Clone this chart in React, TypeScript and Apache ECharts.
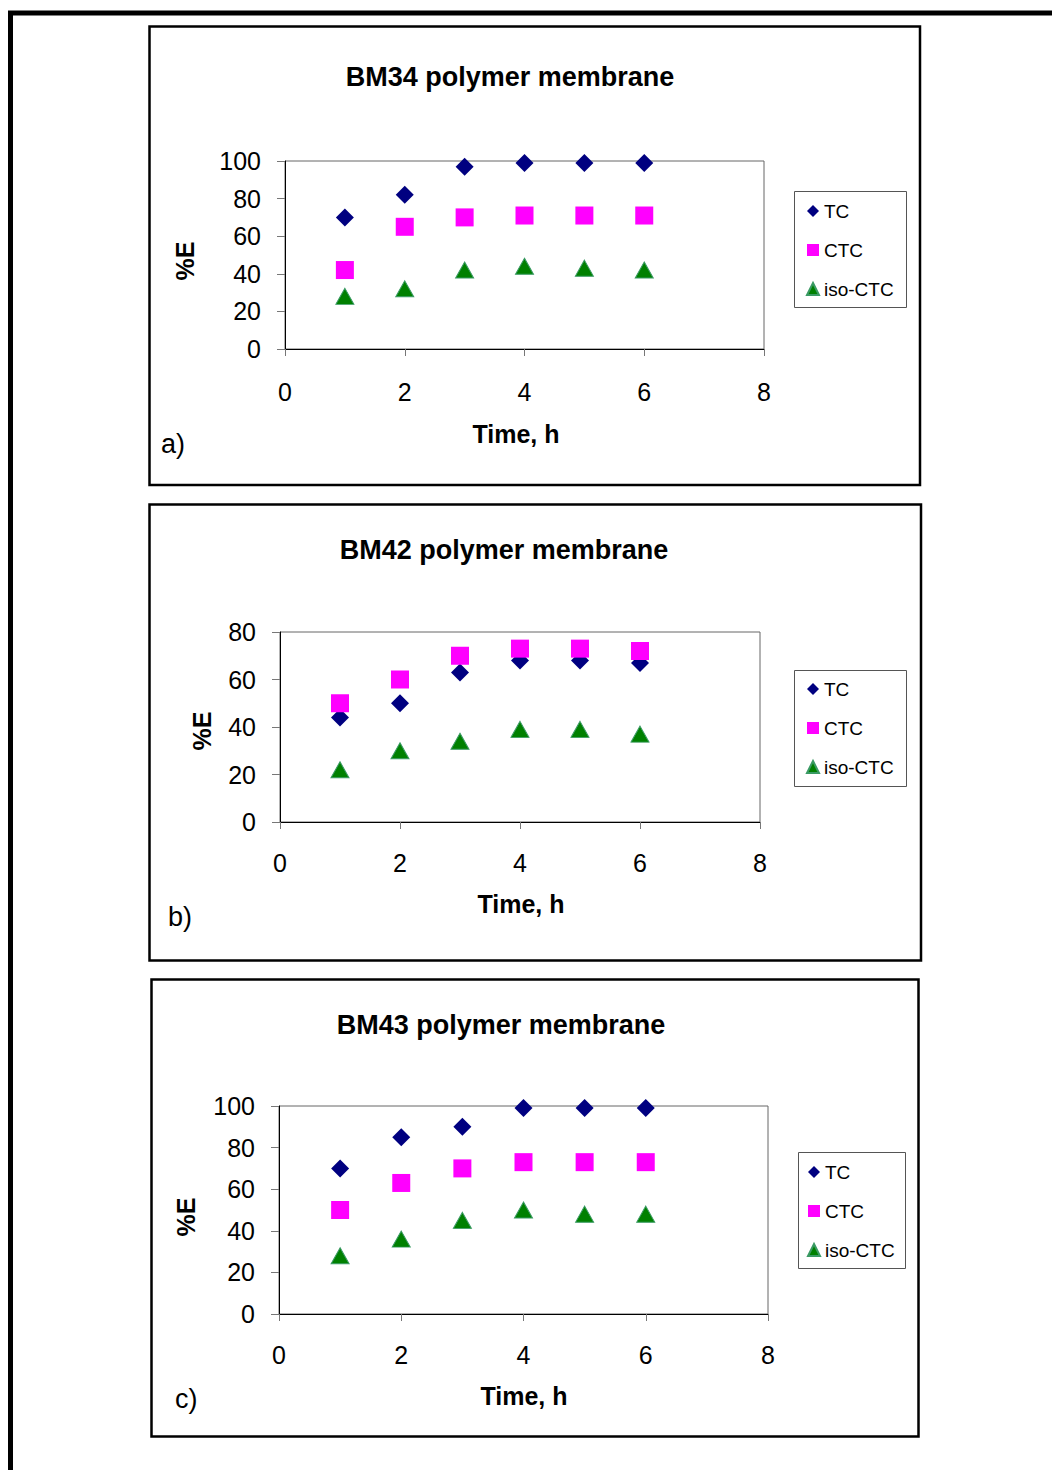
import React, { useEffect, useRef } from "react";
import * as echarts from "echarts";

// Sampling times (h)
const timeH = [1, 2, 3, 4, 5, 6];
const xTicks = [0, 2, 4, 6, 8];

// %E values per membrane and analyte
const bm34TC = [70, 82, 97, 99, 99, 99];
const bm34CTC = [42, 65, 70, 71, 71, 71];
const bm34Iso = [28, 32, 42, 44, 43, 42];

const bm42TC = [44, 50, 63, 68, 68, 67];
const bm42CTC = [50, 60, 70, 73, 73, 72];
const bm42Iso = [22, 30, 34, 39, 39, 37];

const bm43TC = [70, 85, 90, 99, 99, 99];
const bm43CTC = [50, 63, 70, 73, 73, 73];
const bm43Iso = [28, 36, 45, 50, 48, 48];

const seriesNames = ["TC", "CTC", "iso-CTC"];
const panelTitles = ["BM34 polymer membrane", "BM42 polymer membrane", "BM43 polymer membrane"];
const panelLetters = ["a)", "b)", "c)"];
const yMaxes = [100, 80, 100];

const FONT = "'Liberation Sans', Arial, sans-serif";

// Layout of the three stacked panels
const layouts = [
  {
    box: { x: 149.5, y: 26.5, w: 770.5, h: 458.5 },
    grid: { left: 285, top: 161, width: 479, height: 188 },
    title: [510, 77],
    xName: [516, 434],
    yName: [185, 261],
    letter: [161, 444],
    legendBox: { x: 794.5, y: 191.5, w: 112, h: 116 },
    legend: [806, 201],
    xLabelMargin: 30,
  },
  {
    box: { x: 149.5, y: 504.5, w: 771.5, h: 456 },
    grid: { left: 280, top: 632, width: 480, height: 190 },
    title: [504, 550],
    xName: [521, 904],
    yName: [202, 731],
    letter: [168, 917],
    legendBox: { x: 794.5, y: 670.5, w: 112, h: 116 },
    legend: [806, 679],
    xLabelMargin: 28,
  },
  {
    box: { x: 151.5, y: 979.5, w: 767, h: 457 },
    grid: { left: 279, top: 1106, width: 489, height: 208 },
    title: [501, 1025],
    xName: [524, 1396],
    yName: [186, 1217],
    letter: [175, 1399],
    legendBox: { x: 798.5, y: 1152.5, w: 107, h: 116 },
    legend: [807, 1162],
    xLabelMargin: 28,
  },
];

const panelData = [
  [bm34TC, bm34CTC, bm34Iso],
  [bm42TC, bm42CTC, bm42Iso],
  [bm43TC, bm43CTC, bm43Iso],
];

const seriesStyles = [
  { symbol: "diamond", symbolSize: 18, itemStyle: { color: "#000080", opacity: 1 } },
  { symbol: "rect", symbolSize: 18, itemStyle: { color: "#FF00FF", opacity: 1 } },
  {
    symbol: "triangle",
    symbolSize: [18, 16],
    itemStyle: { color: "#008000", borderColor: "#3a9a64", borderWidth: 1, opacity: 1 },
  },
];

function buildOption() {
  const grids = layouts.map((l) => ({
    ...l.grid,
    show: true,
    borderColor: "#666",
    borderWidth: 1,
    backgroundColor: "#fff",
    containLabel: false,
  }));

  const xAxes = layouts.map((l, i) => ({
    type: "value",
    gridIndex: i,
    min: xTicks[0],
    max: xTicks[xTicks.length - 1],
    interval: 2,
    axisLine: { show: true, onZero: false, lineStyle: { color: "#000", width: 1 } },
    axisTick: { show: true, inside: false, length: 7, lineStyle: { color: "#777" } },
    splitLine: { show: false },
    axisLabel: { fontSize: 25, fontFamily: FONT, color: "#000", margin: l.xLabelMargin },
  }));

  const yAxes = layouts.map((l, i) => ({
    type: "value",
    gridIndex: i,
    min: 0,
    max: yMaxes[i],
    interval: 20,
    axisLine: { show: true, onZero: false, lineStyle: { color: "#000", width: 1 } },
    axisTick: { show: true, inside: false, length: 8, lineStyle: { color: "#777" } },
    splitLine: { show: false },
    axisLabel: { fontSize: 25, fontFamily: FONT, color: "#000", margin: 24 },
  }));

  const series: any[] = [];
  panelData.forEach((sets, p) => {
    sets.forEach((vals, s) => {
      series.push({
        type: "scatter",
        name: seriesNames[s],
        xAxisIndex: p,
        yAxisIndex: p,
        ...seriesStyles[s],
        emphasis: { disabled: true },
        data: timeH.map((t, k) => [t, vals[k]]),
      });
    });
  });

  const legends = layouts.map((l) => ({
    orient: "vertical",
    left: l.legend[0],
    top: l.legend[1],
    padding: 0,
    itemWidth: 12,
    itemHeight: 12,
    itemGap: 19,
    selectedMode: false,
    textStyle: { fontSize: 19, fontFamily: FONT, color: "#000", lineHeight: 20 },
    data: [
      { name: "TC", icon: "diamond" },
      { name: "CTC", icon: "rect" },
      { name: "iso-CTC", icon: "triangle" },
    ],
  }));

  const graphics: any[] = [
    // outer frame (top and left edges)
    {
      type: "line",
      shape: { x1: 8, y1: 13, x2: 1052, y2: 13 },
      style: { stroke: "#000", lineWidth: 5 },
    },
    {
      type: "line",
      shape: { x1: 10.5, y1: 11, x2: 10.5, y2: 1470 },
      style: { stroke: "#000", lineWidth: 5 },
    },
  ];

  layouts.forEach((l, i) => {
    graphics.push({
      type: "rect",
      z: -10,
      shape: { x: l.box.x, y: l.box.y, width: l.box.w, height: l.box.h },
      style: { fill: "none", stroke: "#000", lineWidth: 2.5 },
    });
    graphics.push({
      type: "rect",
      shape: { x: l.legendBox.x, y: l.legendBox.y, width: l.legendBox.w, height: l.legendBox.h },
      style: { fill: "none", stroke: "#555", lineWidth: 1 },
    });
    graphics.push({
      type: "text",
      x: l.title[0],
      y: l.title[1],
      style: {
        text: panelTitles[i],
        fontSize: 27,
        fontWeight: "bold",
        fontFamily: FONT,
        fill: "#000",
        align: "center",
        verticalAlign: "middle",
      },
    });
    graphics.push({
      type: "text",
      x: l.xName[0],
      y: l.xName[1],
      style: {
        text: "Time, h",
        fontSize: 25,
        fontWeight: "bold",
        fontFamily: FONT,
        fill: "#000",
        align: "center",
        verticalAlign: "middle",
      },
    });
    graphics.push({
      type: "text",
      x: l.yName[0],
      y: l.yName[1],
      rotation: Math.PI / 2,
      style: {
        text: "%E",
        fontSize: 25,
        fontWeight: "bold",
        fontFamily: FONT,
        fill: "#000",
        align: "center",
        verticalAlign: "middle",
      },
    });
    graphics.push({
      type: "text",
      x: l.letter[0],
      y: l.letter[1],
      style: {
        text: panelLetters[i],
        fontSize: 27,
        fontFamily: FONT,
        fill: "#000",
        align: "left",
        verticalAlign: "middle",
      },
    });
  });

  return {
    animation: false,
    backgroundColor: "#fff",
    grid: grids,
    xAxis: xAxes,
    yAxis: yAxes,
    legend: legends,
    series,
    graphic: graphics,
  };
}

export default function App() {
  const ref = useRef<HTMLDivElement>(null);

  useEffect(() => {
    document.body.style.margin = "0";
    if (!ref.current) return;
    const chart = echarts.init(ref.current, undefined, { renderer: "svg" });
    chart.setOption(buildOption() as any);
    return () => chart.dispose();
  }, []);

  return <div ref={ref} style={{ width: 1052, height: 1470 }} />;
}
